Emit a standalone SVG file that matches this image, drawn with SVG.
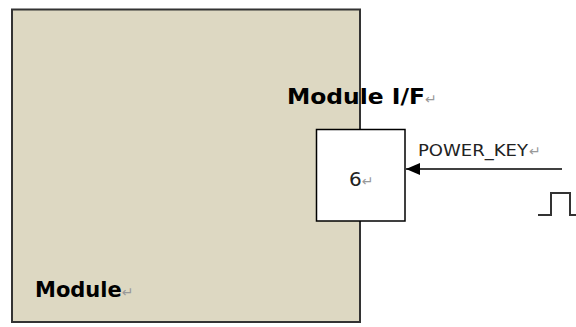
<svg xmlns="http://www.w3.org/2000/svg" width="576" height="327" viewBox="0 0 576 327">
<style>
.bold{font-family:"DejaVu Sans",Verdana,sans-serif;font-weight:bold;fill:#000}
.lbl{font-family:"DejaVu Sans",sans-serif;fill:#222}
.ret{fill:#999;font-family:"DejaVu Sans",sans-serif;font-weight:normal}
</style>
<defs>
<marker id="ah" markerWidth="14" markerHeight="12" refX="14" refY="6" orient="auto" markerUnits="userSpaceOnUse">
<path d="M0,0 L14,6 L0,12 Z" fill="#000"/>
</marker>
</defs>
<rect width="576" height="327" fill="#fff"/>
<g id="module">
<rect x="12" y="9.5" width="348" height="312.5" fill="#DDD8C2" stroke="#333" stroke-width="2"/>
<text class="bold" x="35" y="297" font-size="21">Module<tspan class="ret" font-size="14">↵</tspan></text>
</g>
<g id="module-if">
<text class="bold" x="287" y="104" font-size="21" textLength="138" lengthAdjust="spacingAndGlyphs">Module I/F</text>
<text class="ret" x="425" y="104" font-size="14">↵</text>
</g>
<g id="pin6">
<rect x="316.5" y="129.5" width="88.5" height="91.5" fill="#fff" stroke="#000" stroke-width="1.5"/>
<text class="lbl" x="349" y="186" font-size="20">6<tspan class="ret" font-size="14">↵</tspan></text>
</g>
<g id="pulse">
<path d="M538,215 H551 V193 H570 V215 H576" fill="none" stroke="#333" stroke-width="2"/>
</g>
<g id="connectors">
<line x1="562" y1="169" x2="406" y2="169" stroke="#000" stroke-width="1.5" marker-end="url(#ah)"/>
<text class="lbl" x="418" y="156" font-size="15" textLength="110" lengthAdjust="spacingAndGlyphs">POWER_KEY</text>
<text class="ret" x="529" y="156" font-size="14">↵</text>
</g>
</svg>
